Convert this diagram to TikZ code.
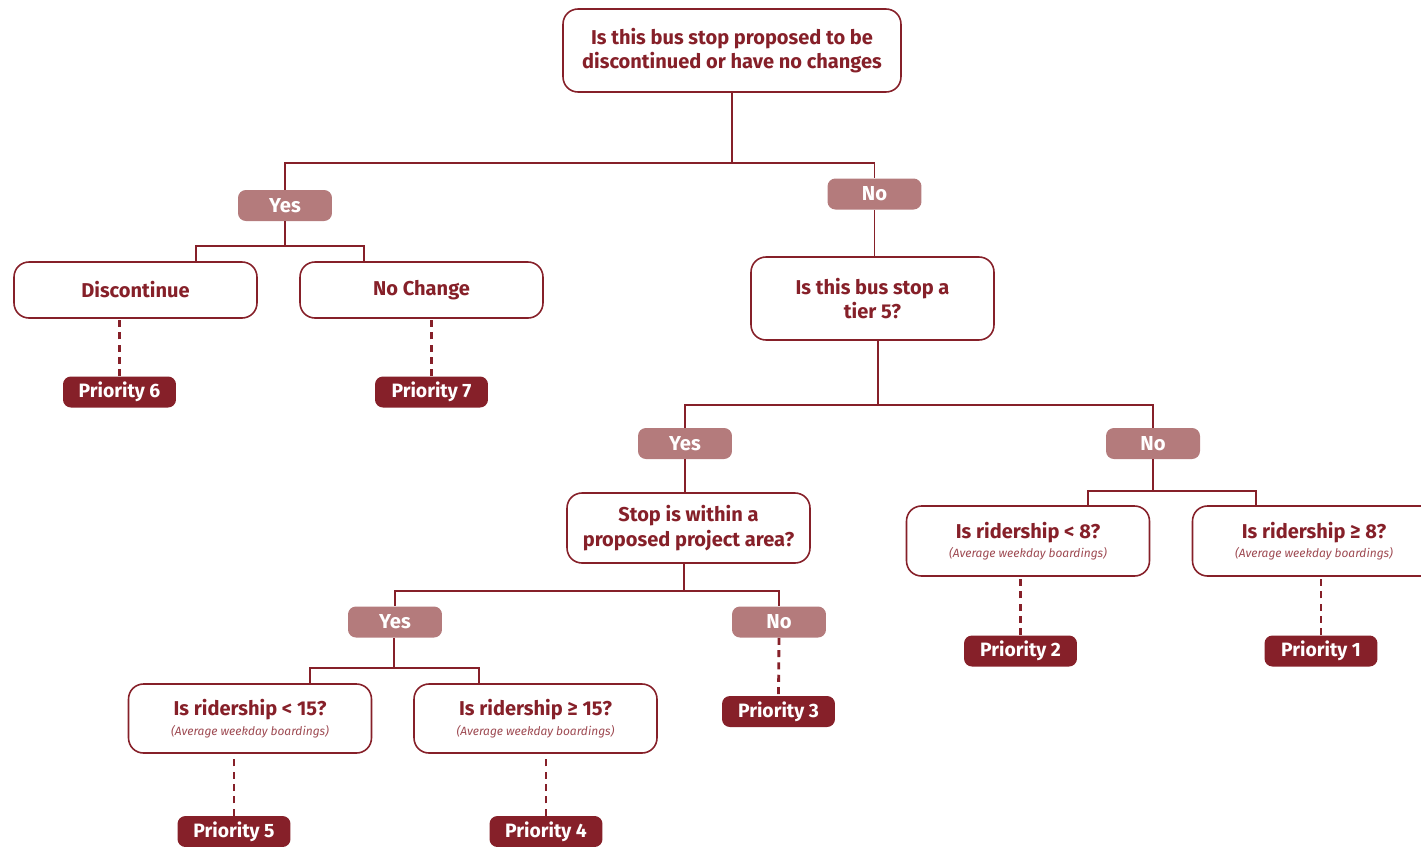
\documentclass[tikz,border=0pt]{standalone}
\usepackage{fontspec}
\setmainfont{Fira Sans}
\usetikzlibrary{calc}

\definecolor{darkred}{HTML}{862029}
\definecolor{tagred}{HTML}{B47B7C}
\definecolor{subred}{HTML}{9E4A52}

\tikzset{
    qbox/.style={draw=darkred, line width=0.9pt, rounded corners=8.5pt, fill=white,
        text=darkred, font=\bfseries\fontsize{11.4}{14}\selectfont, align=center,
        minimum width=4.86cm, minimum height=1.12cm, inner sep=2pt},
    tag/.style={fill=tagred, rounded corners=4.5pt, text=white,
        font=\bfseries\fontsize{11.5}{12}\selectfont,
        minimum width=1.88cm, minimum height=0.62cm, inner sep=0pt},
    prio/.style={fill=darkred, rounded corners=4.5pt, text=white,
        font=\bfseries\fontsize{11}{12}\selectfont,
        minimum width=2.26cm, minimum height=0.62cm, inner sep=0pt},
    link/.style={darkred, line width=0.9pt},
    thicklink/.style={darkred, line width=1.4pt},
    dlink/.style={darkred, line width=1.6pt, dash pattern=on 4pt off 3pt},
}
\newcommand{\avgnote}{\\[-3pt]{\fontsize{6.8}{8}\selectfont\mdseries\itshape\color{subred}(Average weekday boardings)}}

\begin{document}
\begin{tikzpicture}[x=0.02cm, y=-0.02cm]
    \useasboundingbox (0,0) rectangle (1421,846);

    % questions
    \node[qbox, minimum width=6.76cm, minimum height=1.66cm] (top) at (732,50.5)
        {Is this bus stop proposed to be\\discontinued or have no changes};
    \node[qbox] (disc) at (135.5,290) {Discontinue};
    \node[qbox] (nochg) at (421.5,290) {No Change};
    \node[qbox, minimum height=1.66cm] (tier) at (872.5,298.5)
        {Is this bus stop a\\tier 5?};
    \node[qbox, minimum height=1.4cm] (proj) at (688.5,528)
        {Stop is within a\\proposed project area?};
    \node[qbox, minimum height=1.38cm] (lt15) at (250,718.5)
        {Is ridership < 15?\avgnote};
    \node[qbox, minimum height=1.38cm] (ge15) at (535.5,718.5)
        {Is ridership ≥ 15?\avgnote};
    \node[qbox, minimum height=1.4cm] (lt8) at (1028,541)
        {Is ridership < 8?\avgnote};
    \node[qbox, minimum height=1.4cm] (ge8) at (1314,541)
        {Is ridership ≥ 8?\avgnote};

    % yes / no tags
    \node[tag] (yes1) at (285,205.5) {Yes};
    \node[tag] (no1) at (874.5,194) {No};
    \node[tag] (yes2) at (685,443.5) {Yes};
    \node[tag] (no2) at (1153,443.5) {No};
    \node[tag] (yes3) at (395,622) {Yes};
    \node[tag] (no3) at (779,622) {No};

    % priorities
    \node[prio] (p6) at (119.5,392) {Priority 6};
    \node[prio] (p7) at (431.5,392) {Priority 7};
    \node[prio] (p3) at (778.5,711.5) {Priority 3};
    \node[prio] (p5) at (234,831.5) {Priority 5};
    \node[prio] (p4) at (546,831.5) {Priority 4};
    \node[prio] (p2) at (1020.5,651) {Priority 2};
    \node[prio] (p1) at (1321,651) {Priority 1};

    % branch points
    \coordinate (s1) at (732,163);
    \coordinate (s2) at (285,246);
    \coordinate (s3) at (878,405);
    \coordinate (s4) at (684,591);
    \coordinate (s5) at (394,668);
    \coordinate (s6) at (1153,491);

    \draw[link] (top.south) -- (s1) -| (yes1.north);
    \draw[link] (s1) -| (no1.north);
    \draw[thicklink] (yes1.south) -- (s2) -| ([xshift=1.21cm]disc.north);
    \draw[thicklink] (s2) -| ([xshift=-1.15cm]nochg.north);
    \draw[link] (no1.south) -- (no1.south |- tier.north);
    \draw[link] (tier.south -| s3) -- (s3) -| (yes2.north);
    \draw[link] (s3) -| (no2.north);
    \draw[link] (yes2.south) -- (yes2.south |- proj.north);
    \draw[thicklink] (proj.south -| s4) -- (s4) -| (yes3.north);
    \draw[link] (s4) -| (no3.north);
    \draw[link] (yes3.south -| s5) -- (s5) -| ([xshift=1.2cm]lt15.north);
    \draw[link] (s5) -| ([xshift=-1.13cm]ge15.north);
    \draw[link] (no2.south) -- (s6) -| ([xshift=1.2cm]lt8.north);
    \draw[link] (s6) -| ([xshift=-1.16cm]ge8.north);

    % dashed to priorities
    \draw[dlink] (p6.north) -- (p6.north |- disc.south);
    \draw[dlink] (p7.north) -- (p7.north |- nochg.south);
    \draw[dlink] (no3.south) -- (p3.north);
    \draw[dlink] (p5.north) -- ([yshift=-2pt]p5.north |- lt15.south);
    \draw[dlink] (p4.north) -- ([yshift=-2pt]p4.north |- ge15.south);
    \draw[dlink] (p2.north) -- (p2.north |- lt8.south);
    \draw[dlink] (p1.north) -- (p1.north |- ge8.south);
\end{tikzpicture}
\end{document}
